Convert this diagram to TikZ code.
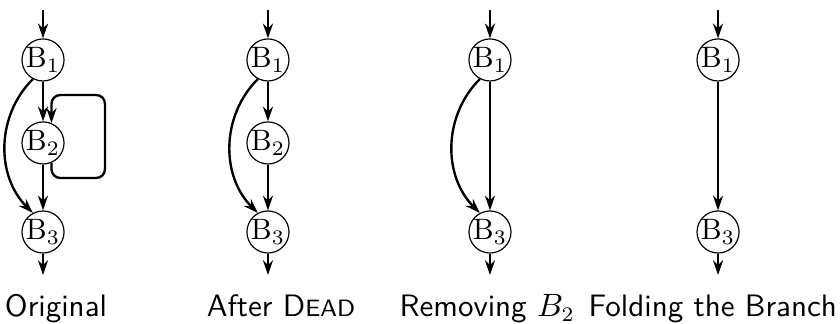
\documentclass[tikz,border=0pt]{standalone}
\usepackage{amsmath}
\usepackage{tikz}
\usetikzlibrary{arrows.meta}
\tikzset{>={Stealth[length=5pt,width=3.4pt]}}
\tikzset{
    blk/.style={circle, draw, line width=0.4pt, minimum size=13.6pt, inner sep=0pt, font=\normalsize},
    flow/.style={->, line width=0.8pt},
    caption/.style={anchor=base, font=\sffamily\fontsize{10.5}{12}\selectfont, inner sep=0pt},
}

\begin{document}
\begin{tikzpicture}
    \useasboundingbox (0,0) rectangle (10,3.857);
    % original flow graph
    \coordinate (oin) at (0.512,3.738);
    \node[blk] (o1) at (0.512,3.143) {$\mathrm{B}_1$};
    \node[blk] (o2) at (0.512,2.155) {$\mathrm{B}_2$};
    \node[blk] (o3) at (0.512,1.095) {$\mathrm{B}_3$};
    \coordinate (oout) at (0.512,0.583);
    \draw[flow] (oin) -- (o1);
    \draw[flow] (o1) -- (o2);
    \draw[flow] (o2) -- (o3);
    \draw[flow] (o3) -- (oout);
    \draw[flow] (o1.-118) to[bend right=45] (o3.118);
    \draw[flow, rounded corners=3pt] (o2.-67) |- (1.25,1.738) -- (1.25,2.726) -| (o2.67);
    \node[caption] (ocap) at (0.667,0.09) {Original};

    % after dead code elimination
    \coordinate (din) at (3.190,3.738);
    \node[blk] (d1) at (3.190,3.143) {$\mathrm{B}_1$};
    \node[blk] (d2) at (3.190,2.155) {$\mathrm{B}_2$};
    \node[blk] (d3) at (3.190,1.095) {$\mathrm{B}_3$};
    \coordinate (dout) at (3.190,0.583);
    \draw[flow] (din) -- (d1);
    \draw[flow] (d1) -- (d2);
    \draw[flow] (d2) -- (d3);
    \draw[flow] (d3) -- (dout);
    \draw[flow] (d1.-118) to[bend right=45] (d3.118);
    \node[caption] (dcap) at (3.345,0.09) {After D{\fontsize{8}{10}\selectfont EAD}};

    % B2 removed
    \coordinate (rin) at (5.833,3.738);
    \node[blk] (r1) at (5.833,3.143) {$\mathrm{B}_1$};
    \node[blk] (r3) at (5.833,1.095) {$\mathrm{B}_3$};
    \coordinate (rout) at (5.833,0.583);
    \draw[flow] (rin) -- (r1);
    \draw[flow] (r1) -- (r3);
    \draw[flow] (r3) -- (rout);
    \draw[flow] (r1.-118) to[bend right=45] (r3.118);
    \node[caption] (rcap) at (5.80,0.09) {Removing $B_2$};

    % branch folded
    \coordinate (fin) at (8.548,3.738);
    \node[blk] (f1) at (8.548,3.143) {$\mathrm{B}_1$};
    \node[blk] (f3) at (8.548,1.095) {$\mathrm{B}_3$};
    \coordinate (fout) at (8.548,0.583);
    \draw[flow] (fin) -- (f1);
    \draw[flow] (f1) -- (f3);
    \draw[flow] (f3) -- (fout);
    \node[caption, anchor=base east] (fcap) at (9.97,0.09) {Folding the Branch};
\end{tikzpicture}
\end{document}
